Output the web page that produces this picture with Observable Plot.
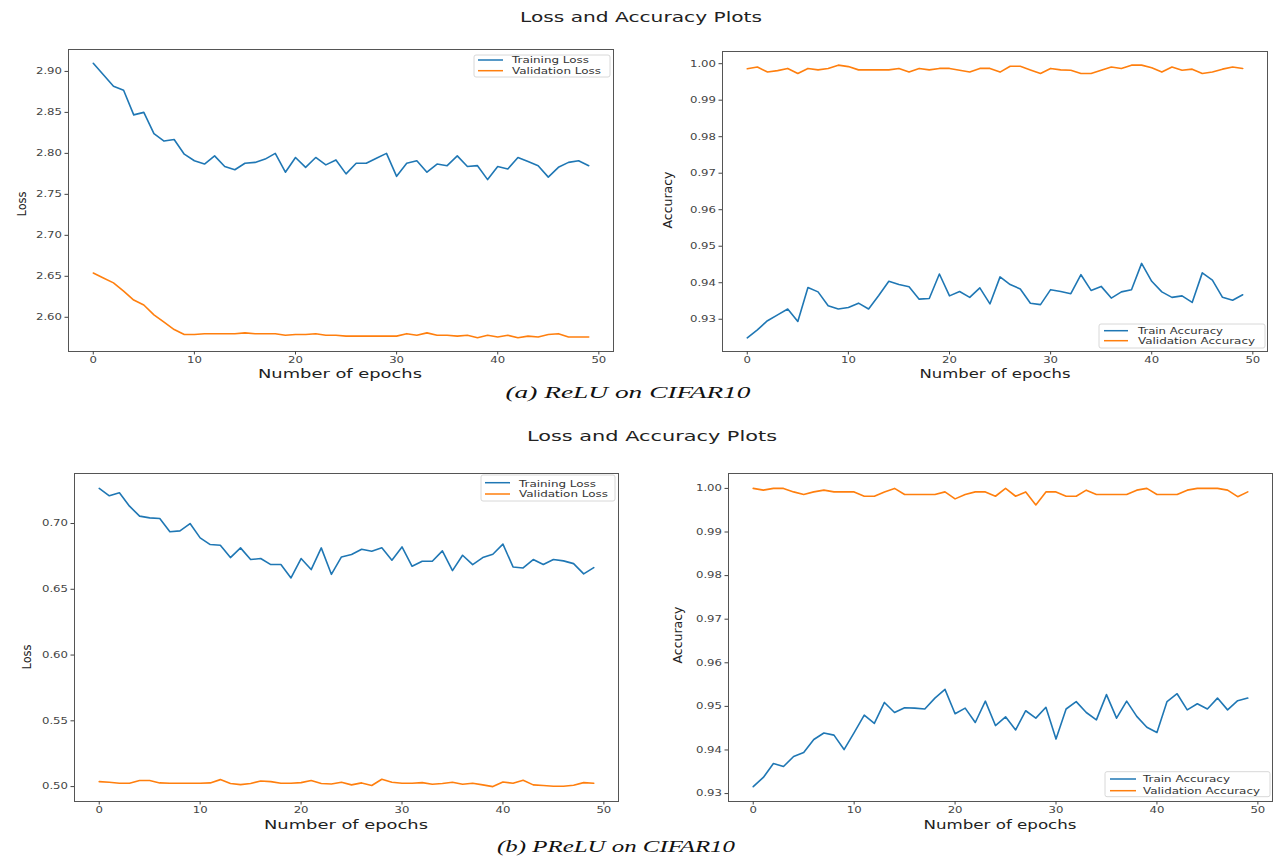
<!DOCTYPE html>
<html><head><meta charset="utf-8">
<script src="https://cdn.jsdelivr.net/npm/d3@7"></script>
<script src="https://cdn.jsdelivr.net/npm/@observablehq/plot@0.6"></script>
<style>
html,body{margin:0;padding:0;background:#fff;}
#fig{position:relative;width:1274px;height:859px;overflow:hidden;background:#fff;font-family:"DejaVu Sans",sans-serif;}
#fig > svg{position:absolute;}
</style></head><body><div id="fig"></div>
<script>
// ---------- data ----------
const xTicks = [0, 10, 20, 30, 40, 50];
const lossTicksA = [2.60, 2.65, 2.70, 2.75, 2.80, 2.85, 2.90];
const lossTicksB = [0.50, 0.55, 0.60, 0.65, 0.70];
const accTicks = [0.93, 0.94, 0.95, 0.96, 0.97, 0.98, 0.99, 1.00];

const reluTrainLoss = [2.910, 2.896, 2.882, 2.877, 2.847, 2.850, 2.824, 2.815, 2.817, 2.799, 2.791, 2.787, 2.797, 2.784, 2.780, 2.788, 2.789, 2.793, 2.800, 2.777, 2.795, 2.783, 2.795, 2.786, 2.792, 2.775, 2.788, 2.788, 2.794, 2.800, 2.772, 2.788, 2.791, 2.777, 2.787, 2.785, 2.797, 2.784, 2.785, 2.768, 2.784, 2.781, 2.795, 2.790, 2.785, 2.771, 2.783, 2.789, 2.791, 2.785];
const reluValLoss = [2.654, 2.648, 2.642, 2.632, 2.621, 2.615, 2.603, 2.594, 2.585, 2.579, 2.579, 2.580, 2.580, 2.580, 2.580, 2.581, 2.580, 2.580, 2.580, 2.578, 2.579, 2.579, 2.580, 2.578, 2.578, 2.577, 2.577, 2.577, 2.577, 2.577, 2.577, 2.580, 2.578, 2.581, 2.578, 2.578, 2.577, 2.578, 2.575, 2.578, 2.576, 2.578, 2.575, 2.577, 2.576, 2.579, 2.580, 2.576, 2.576, 2.576];
const reluTrainAcc = [0.9249, 0.9271, 0.9296, 0.9312, 0.9328, 0.9294, 0.9387, 0.9375, 0.9337, 0.9328, 0.9332, 0.9344, 0.9328, 0.9365, 0.9404, 0.9395, 0.9389, 0.9355, 0.9357, 0.9424, 0.9364, 0.9376, 0.9360, 0.9386, 0.9342, 0.9416, 0.9395, 0.9383, 0.9344, 0.9340, 0.9381, 0.9376, 0.9370, 0.9422, 0.9379, 0.9390, 0.9358, 0.9375, 0.9381, 0.9453, 0.9404, 0.9375, 0.9360, 0.9364, 0.9346, 0.9427, 0.9407, 0.9360, 0.9352, 0.9367];
const reluValAcc = [0.9986, 0.9991, 0.9977, 0.9981, 0.9987, 0.9973, 0.9987, 0.9983, 0.9987, 0.9996, 0.9992, 0.9983, 0.9983, 0.9983, 0.9983, 0.9987, 0.9977, 0.9987, 0.9983, 0.9987, 0.9987, 0.9982, 0.9977, 0.9987, 0.9987, 0.9977, 0.9993, 0.9993, 0.9983, 0.9973, 0.9987, 0.9983, 0.9982, 0.9973, 0.9973, 0.9982, 0.9991, 0.9987, 0.9996, 0.9996, 0.9989, 0.9977, 0.9991, 0.9982, 0.9985, 0.9973, 0.9977, 0.9985, 0.9991, 0.9987];

const preluTrainLoss = [0.7267, 0.7211, 0.7234, 0.7132, 0.7056, 0.7043, 0.7038, 0.6937, 0.6944, 0.7000, 0.6891, 0.6840, 0.6835, 0.6741, 0.6815, 0.6726, 0.6734, 0.6688, 0.6688, 0.6586, 0.6734, 0.6650, 0.6815, 0.6614, 0.6746, 0.6764, 0.6805, 0.6789, 0.6815, 0.6721, 0.6822, 0.6675, 0.6713, 0.6713, 0.6792, 0.6642, 0.6759, 0.6688, 0.6741, 0.6766, 0.6843, 0.6670, 0.6662, 0.6726, 0.6688, 0.6726, 0.6716, 0.6695, 0.6617, 0.6665];
const preluValLoss = [0.5038, 0.5033, 0.5025, 0.5025, 0.5046, 0.5046, 0.5028, 0.5025, 0.5025, 0.5025, 0.5025, 0.5028, 0.5053, 0.5023, 0.5015, 0.5023, 0.5043, 0.5038, 0.5025, 0.5025, 0.5030, 0.5046, 0.5023, 0.5020, 0.5033, 0.5013, 0.5028, 0.5008, 0.5056, 0.5033, 0.5025, 0.5025, 0.5030, 0.5018, 0.5023, 0.5033, 0.5018, 0.5025, 0.5013, 0.5000, 0.5035, 0.5025, 0.5048, 0.5013, 0.5008, 0.5003, 0.5003, 0.5010, 0.5030, 0.5025];
const preluTrainAcc = [0.9316, 0.9337, 0.9369, 0.9362, 0.9385, 0.9394, 0.9424, 0.9439, 0.9434, 0.9401, 0.9440, 0.9480, 0.9461, 0.9509, 0.9486, 0.9497, 0.9496, 0.9494, 0.9519, 0.9539, 0.9483, 0.9496, 0.9463, 0.9512, 0.9456, 0.9476, 0.9446, 0.9490, 0.9473, 0.9498, 0.9425, 0.9494, 0.9511, 0.9486, 0.9469, 0.9527, 0.9473, 0.9512, 0.9477, 0.9452, 0.9440, 0.9511, 0.9529, 0.9492, 0.9506, 0.9494, 0.9519, 0.9492, 0.9513, 0.9519];
const preluValAcc = [1.0000, 0.9996, 1.0000, 1.0000, 0.9992, 0.9986, 0.9992, 0.9996, 0.9992, 0.9992, 0.9992, 0.9982, 0.9982, 0.9992, 1.0000, 0.9986, 0.9986, 0.9986, 0.9986, 0.9992, 0.9976, 0.9986, 0.9992, 0.9992, 0.9982, 1.0000, 0.9982, 0.9992, 0.9962, 0.9992, 0.9992, 0.9982, 0.9982, 0.9996, 0.9986, 0.9986, 0.9986, 0.9986, 0.9996, 1.0000, 0.9986, 0.9986, 0.9986, 0.9996, 1.0000, 1.0000, 1.0000, 0.9996, 0.9981, 0.9992];

const figTitle = "Loss and Accuracy Plots";
const captions = ["(a) ReLU on CIFAR10", "(b) PReLU on CIFAR10"];
const xLabel = "Number of epochs";
const lossLegend = ["Training Loss", "Validation Loss"];
const accLegend = ["Train Accuracy", "Validation Accuracy"];

// ---------- styling / layout ----------
const BLUE = "#1f77b4", ORANGE = "#ff7f0e";
const FONT = '"DejaVu Sans", sans-serif';
const STRETCH = 1.3;
const epochs = d3.range(50);
const xDomain = [-2.45, 51.45];
const fmt = d3.format(".2f");

const panels = [
  {train: reluTrainLoss, val: reluValLoss, ticks: lossTicksA, left: 0, top: 30, width: 640, height: 345, mL: 68, mR: 27, mT: 19, mB: 24},
  {train: reluTrainAcc, val: reluValAcc, ticks: accTicks, left: 640, top: 30, width: 634, height: 345, mL: 82, mR: 7, mT: 21, mB: 24},
  {train: preluTrainLoss, val: preluValLoss, ticks: lossTicksB, left: 0, top: 450, width: 640, height: 375, mL: 74, mR: 22, mT: 23, mB: 24},
  {train: preluTrainAcc, val: preluValAcc, ticks: accTicks, left: 640, top: 450, width: 634, height: 375, mL: 88, mR: 2, mT: 23, mB: 24}
];

const fig = document.getElementById("fig");
const toRows = arr => arr.map((v, i) => ({epoch: epochs[i], value: v}));
const padded = ext => { const r = ext[1] - ext[0]; return [ext[0] - 0.05 * r, ext[1] + 0.05 * r]; };

panels.forEach(p => {
  const svg = Plot.plot({
    width: p.width, height: p.height,
    marginLeft: p.mL, marginRight: p.mR, marginTop: p.mT, marginBottom: p.mB,
    style: {fontFamily: FONT, fontSize: "9px", background: "transparent", color: "#444", overflow: "visible"},
    x: {domain: xDomain, label: null},
    y: {domain: padded(d3.extent([...p.train, ...p.val])), label: null},
    marks: [
      Plot.line(toRows(p.train), {x: "epoch", y: "value", stroke: BLUE, strokeWidth: 1.6}),
      Plot.line(toRows(p.val), {x: "epoch", y: "value", stroke: ORANGE, strokeWidth: 1.6}),
      Plot.frame({stroke: "#555", strokeWidth: 1}),
      Plot.axisX({ticks: xTicks, tickSize: 3.5, tickPadding: 2, label: null}),
      Plot.axisY({ticks: p.ticks, tickSize: 3.5, tickPadding: 3, tickFormat: fmt, label: null})
    ]
  });
  svg.style.left = p.left + "px";
  svg.style.top = p.top + "px";
  svg.querySelectorAll('g[aria-label$="tick label"] text').forEach(t => {
    t.setAttribute("transform", (t.getAttribute("transform") || "") + ` scale(${STRETCH},1)`);
  });
  fig.appendChild(svg);
});

// ---------- overlay: titles, captions, axis titles, legends ----------
const ov = d3.create("svg").attr("width", 1274).attr("height", 859)
  .style("left", "0px").style("top", "0px").style("pointer-events", "none");

function txt(o) {
  const t = ov.append("text")
    .attr("text-anchor", o.anchor || "middle")
    .attr("font-family", o.family || FONT)
    .attr("font-size", o.size)
    .attr("fill", o.fill || "#222")
    .text(o.text);
  if (o.italic) t.attr("font-style", "italic");
  if (o.len) t.attr("textLength", o.len).attr("lengthAdjust", "spacingAndGlyphs");
  if (o.rotate) t.attr("transform", `translate(${o.x},${o.y}) rotate(-90)`).attr("dy", "0.35em");
  else t.attr("x", o.x).attr("y", o.y);
  return t;
}

// figure titles
txt({text: figTitle, x: 641, y: 22, size: 13.5, len: 242});
txt({text: figTitle, x: 652, y: 441, size: 13.5, len: 250});
// captions
txt({text: captions[0], x: 628, y: 398, size: 17, len: 245, italic: true, family: '"Liberation Serif", serif', fill: "#111"});
txt({text: captions[1], x: 616, y: 852, size: 17.5, len: 238, italic: true, family: '"Liberation Serif", serif', fill: "#111"});
// x axis titles
[[340, 378, 164], [995, 378, 151], [346, 829, 164], [1000, 829, 153]].forEach(([x, y, len]) =>
  txt({text: xLabel, x, y, size: 12.5, len}));
// y axis titles
txt({text: "Loss", x: 22, y: 204, size: 12.5, len: 25, rotate: true});
txt({text: "Accuracy", x: 668, y: 200, size: 12.5, len: 57, rotate: true});
txt({text: "Loss", x: 27, y: 657, size: 12.5, len: 25, rotate: true});
txt({text: "Accuracy", x: 678, y: 635, size: 12.5, len: 57, rotate: true});

// legends
const legends = [
  {labels: lossLegend, box: [474, 55, 136, 22], lineX: [478, 503], ys: [60, 70.7], textX: 512, base: [63.3, 73.7], lens: [77, 89]},
  {labels: accLegend, box: [1099, 324, 166, 24], lineX: [1104, 1128], ys: [330.7, 340.7], textX: 1138, base: [333.5, 344], lens: [85, 117]},
  {labels: lossLegend, box: [481, 475, 134, 26], lineX: [485, 510], ys: [482.7, 494], textX: 519, base: [486.7, 497.3], lens: [77, 89]},
  {labels: accLegend, box: [1105, 771.7, 165, 25], lineX: [1110, 1136], ys: [779, 790.7], textX: 1143, base: [782.3, 793.7], lens: [87, 117]}
];
legends.forEach(L => {
  ov.append("rect").attr("x", L.box[0]).attr("y", L.box[1]).attr("width", L.box[2]).attr("height", L.box[3])
    .attr("rx", 2).attr("fill", "#fff").attr("fill-opacity", 0.85).attr("stroke", "#d8d8d8");
  [BLUE, ORANGE].forEach((c, i) => {
    ov.append("line").attr("x1", L.lineX[0]).attr("x2", L.lineX[1]).attr("y1", L.ys[i]).attr("y2", L.ys[i])
      .attr("stroke", c).attr("stroke-width", 1.5);
    txt({text: L.labels[i], x: L.textX, y: L.base[i], size: 9, len: L.lens[i], anchor: "start", fill: "#333"});
  });
});

fig.appendChild(ov.node());
</script>
</body></html>
